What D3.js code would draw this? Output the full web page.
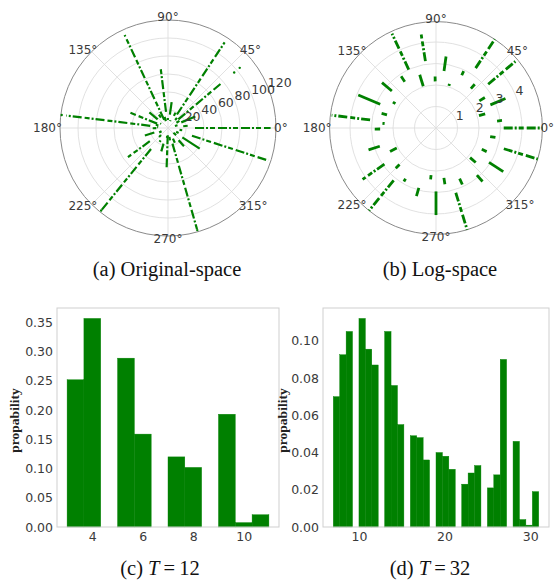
<!DOCTYPE html>
<html>
<head>
<meta charset="utf-8">
<script src="https://cdn.jsdelivr.net/npm/d3@7"></script>
<style>
  body { margin: 0; background: #fff; }
  svg { display: block; }
</style>
</head>
<body>
<script>
// ---- polar data: each spoke is [angle in degrees, r from, r to] ----
const angleTicks = [0, 45, 90, 135, 180, 225, 270, 315];
const origTicks = [20, 40, 60, 80, 100, 120];
const logTicks = [1, 2, 3, 4];

const origSpokes = [
  [0, 30, 114], [342, 28, 117], [286, 18, 118], [268, 8, 45],
  [231, 30, 117], [216, 25, 55], [173, 20, 114], [158, 13, 45],
  [115, 10, 114], [97, 18, 68], [56.5, 18, 114], [40, 15, 78],
  [6.5, 17, 22], [16, 8, 11], [23, 16, 33], [32, 11, 15], [48.5, 12, 15],
  [64, 15, 19], [73, 8, 9], [82, 15, 29], [91, 9, 11], [107, 8, 13],
  [124, 14, 18], [140, 15, 27], [149, 9, 10], [165, 11, 14], [175, 11, 12],
  [181, 13, 17], [198, 16, 27], [207, 8, 11], [225, 11, 14], [239, 16, 18],
  [254, 18, 27], [264, 9, 11], [279, 10, 14], [295, 13, 18], [311, 18, 27],
  [319, 8, 12], [327, 19, 42], [335, 10, 13], [351, 13, 16]
];
const origDots = [[40, 96], [40, 104], [173, 119], [231, 118], [286, 118]];

const logSpokes = [
  [0, 3.15, 4.95], [343, 3.3, 4.95], [351, 2.55, 2.8], [335, 2.35, 2.6],
  [327, 2.94, 3.73], [319, 2.1, 2.45], [311, 2.9, 3.3], [295, 2.6, 2.9],
  [279, 2.35, 2.65], [287, 3.15, 4.95], [270, 2.95, 4.05], [181, 2.6, 2.85],
  [198, 2.75, 3.3], [207, 2.05, 2.4], [215, 2.93, 4.17], [225, 2.4, 2.65],
  [231, 3.13, 4.95], [239, 2.75, 2.9], [254, 2.9, 3.3], [264, 2.2, 2.4],
  [173, 3.09, 4.89], [157, 2.82, 3.93], [140, 2.68, 3.28], [165, 2.36, 2.62],
  [175, 2.4, 2.5], [149, 2.2, 2.34], [115, 3.0, 4.84], [124, 2.6, 2.9],
  [99, 3.15, 4.4], [107, 2.03, 2.59], [91, 2.17, 2.4], [56.5, 3.34, 4.95],
  [40, 3.17, 4.82], [82, 2.68, 3.36], [64, 2.73, 2.94], [73, 2.05, 2.15],
  [48.5, 2.45, 2.72], [32, 2.38, 2.68], [23, 2.75, 3.51], [16, 2.08, 2.38],
  [6.5, 2.86, 3.09]
];

// ---- histogram data (density per bin) ----
const t12Range = [3, 11];
const t12Density = [0.252, 0.357, 0, 0.289, 0.159, 0, 0.120, 0.102, 0, 0.193, 0.0075, 0.021];
const t12XTicks = [4, 6, 8, 10];
const t12YTicks = [0, 0.05, 0.10, 0.15, 0.20, 0.25, 0.30, 0.35];

const t32Range = [7, 31];
const t32Density = [0.070, 0.0925, 0.105, 0, 0.112, 0.0955, 0.087, 0, 0.105, 0.076, 0.055, 0,
  0.049, 0.048, 0.036, 0, 0.040, 0.038, 0.031, 0, 0.023, 0.029, 0.033, 0,
  0.021, 0.028, 0.090, 0, 0.046, 0.004, 0.001, 0.019];
const t32XTicks = [10, 20, 30];
const t32YTicks = [0, 0.02, 0.04, 0.06, 0.08, 0.10];

const GREEN = "#008000";
const TICK_COLOR = "#3a3a3a";

const svg = d3.select("body").append("svg")
  .attr("width", 557).attr("height", 580);

const toRad = deg => (90 - deg) * Math.PI / 180;

function polar(cx, cy, rScale, ticks, spokes, dots, lineW) {
  const g = svg.append("g").attr("transform", `translate(${cx},${cy})`);
  const R = rScale.range()[1];

  g.selectAll("circle.ring").data(ticks.filter(t => rScale(t) < R - 1)).join("circle")
    .attr("class", "ring").attr("r", d => rScale(d))
    .attr("fill", "none").attr("stroke", "#dedede").attr("stroke-width", 0.9);

  g.selectAll("line.grid").data(angleTicks).join("line")
    .attr("class", "grid")
    .attr("x2", d => d3.pointRadial(toRad(d), R)[0])
    .attr("y2", d => d3.pointRadial(toRad(d), R)[1])
    .attr("stroke", "#dedede").attr("stroke-width", 0.9);

  g.append("circle").attr("r", R)
    .attr("fill", "none").attr("stroke", "#8a8a8a").attr("stroke-width", 1);

  g.selectAll("line.spoke").data(spokes).join("line")
    .attr("class", "spoke")
    .attr("x1", d => d3.pointRadial(toRad(d[0]), rScale(d[1]))[0])
    .attr("y1", d => d3.pointRadial(toRad(d[0]), rScale(d[1]))[1])
    .attr("x2", d => d3.pointRadial(toRad(d[0]), rScale(d[2]))[0])
    .attr("y2", d => d3.pointRadial(toRad(d[0]), rScale(d[2]))[1])
    .attr("stroke", GREEN).attr("stroke-width", lineW)
    .attr("stroke-dasharray", d => rScale(d[2]) - rScale(d[1]) > 25 ? "9 2 2 2 5 3" : null);

  g.selectAll("circle.dot").data(dots).join("circle")
    .attr("class", "dot")
    .attr("cx", d => d3.pointRadial(toRad(d[0]), rScale(d[1]))[0])
    .attr("cy", d => d3.pointRadial(toRad(d[0]), rScale(d[1]))[1])
    .attr("r", 1.2).attr("fill", GREEN);

  // radial tick labels along 22.5 degrees
  g.selectAll("text.rlab").data(ticks).join("text")
    .attr("class", "rlab")
    .attr("x", d => d3.pointRadial(toRad(22.5), rScale(d))[0])
    .attr("y", d => d3.pointRadial(toRad(22.5), rScale(d))[1])
    .attr("font-family", "DejaVu Sans").attr("font-size", 12.5)
    .attr("fill", TICK_COLOR)
    .text(d => d);

  // angle labels outside the circle
  g.selectAll("text.alab").data(angleTicks).join("text")
    .attr("class", "alab")
    .attr("font-family", "DejaVu Sans").attr("font-size", 12)
    .attr("fill", TICK_COLOR)
    .attr("text-anchor", "middle").attr("dominant-baseline", "central")
    .text(d => d + "°")
    .each(function(d) {
      const bb = this.getBBox();
      const a = d * Math.PI / 180;
      const rr = R - 2;
      d3.select(this)
        .attr("x", rr * Math.cos(a) + bb.width / 2 * Math.cos(a))
        .attr("y", -rr * Math.sin(a) - bb.height / 2 * 0.65 * Math.sin(a));
    });
}

polar(168, 128, d3.scaleLinear().domain([0, 120]).range([0, 108]),
  origTicks, origSpokes, origDots, 2.2);
polar(436, 128, d3.scaleLinear().domain([0, 4.95]).range([0, 106.4]),
  logTicks, logSpokes, [], 2.8);

function histogram(box, range, density, xTicks, yTicks, fmt) {
  const n = density.length;
  const w = (range[1] - range[0]) / n;
  const pad = (range[1] - range[0]) * 0.05;
  const x = d3.scaleLinear().domain([range[0] - pad, range[1] + pad]).range([box.left, box.right]);
  const y = d3.scaleLinear().domain([0, d3.max(density) * 1.05]).range([box.bottom, box.top]);
  const g = svg.append("g");

  g.selectAll("rect").data(density).join("rect")
    .attr("x", (d, i) => x(range[0] + i * w))
    .attr("width", (d, i) => x(range[0] + (i + 1) * w) - x(range[0] + i * w))
    .attr("y", d => y(d))
    .attr("height", d => y(0) - y(d))
    .attr("fill", GREEN)
    .attr("stroke", GREEN).attr("stroke-width", 0.4);

  g.append("rect")
    .attr("x", box.left).attr("y", box.top)
    .attr("width", box.right - box.left).attr("height", box.bottom - box.top)
    .attr("fill", "none").attr("stroke", "#cfcfcf").attr("stroke-width", 1);

  const xa = g.append("g").attr("transform", `translate(0,${box.bottom})`)
    .call(d3.axisBottom(x).tickValues(xTicks).tickSize(0).tickPadding(5));
  const ya = g.append("g").attr("transform", `translate(${box.left},0)`)
    .call(d3.axisLeft(y).tickValues(yTicks).tickSize(0).tickPadding(4).tickFormat(d3.format(fmt)));
  [xa, ya].forEach(a => {
    a.select(".domain").remove();
    a.selectAll("text").attr("font-family", "DejaVu Sans").attr("font-size", 12.5)
      .attr("fill", TICK_COLOR);
  });

  g.append("text")
    .attr("transform", `translate(${box.labelX},${(box.top + box.bottom) / 2 + 3}) rotate(-90)`)
    .attr("text-anchor", "middle")
    .attr("font-family", "Liberation Serif").attr("font-weight", "bold").attr("font-size", 13.5)
    .attr("fill", "#222")
    .text("propability");
}

histogram({left: 57, right: 279, top: 308, bottom: 527, labelX: 19},
  t12Range, t12Density, t12XTicks, t12YTicks, ".2f");
histogram({left: 323, right: 549, top: 308, bottom: 527, labelX: 287},
  t32Range, t32Density, t32XTicks, t32YTicks, ".2f");

// captions
const captions = [
  {x: 167, y: 276, parts: [["(a) Original-space", "normal"]]},
  {x: 440, y: 276, parts: [["(b) Log-space", "normal"]]},
  {x: 160, y: 575, parts: [["(c) ", "normal"], ["T", "italic"], ["\u2009=\u200912", "normal"]]},
  {x: 430, y: 575, parts: [["(d) ", "normal"], ["T", "italic"], ["\u2009=\u200932", "normal"]]}
];
captions.forEach(c => {
  const t = svg.append("text")
    .attr("x", c.x).attr("y", c.y)
    .attr("text-anchor", "middle")
    .attr("font-family", "Liberation Serif").attr("font-size", 20.5)
    .attr("fill", "#111");
  c.parts.forEach(p => t.append("tspan").attr("font-style", p[1]).text(p[0]));
});
</script>
</body>
</html>
